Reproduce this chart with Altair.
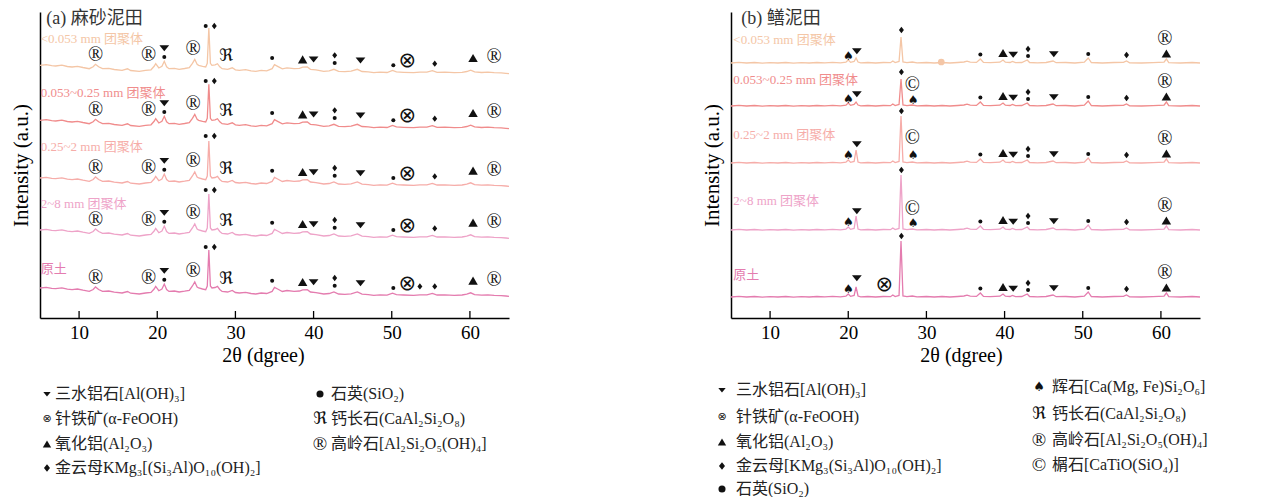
import altair as alt
import pandas as pd

SERIF = "Liberation Serif, Noto Sans CJK SC, DejaVu Serif, serif"
LATIN_SERIF = "Liberation Serif, Times New Roman, DejaVu Serif, serif"
SYMF = "DejaVu Sans"
INK = "#111111"

TRACES = ["<0.053 mm 团聚体", "0.053~0.25 mm 团聚体", "0.25~2 mm 团聚体", "2~8 mm 团聚体", "原土"]
COLORS = ["#F4C6A6", "#F08C8C", "#F6ADA9", "#EEA3C8", "#E47CAF"]
X_TICKS = [10, 20, 30, 40, 50, 60]

# ---------------- panel (a) 麻砂泥田 : profile (2θ, intensity above trace offset) ----------------
A_PROFILE = [
    (5.0, 0.0), (5.8, 0.6), (6.5, -0.4), (7.0, -0.7), (7.8, 0.2), (8.5, -1.2), (9.1, -1.7), (9.8, -1.0),
    (10.5, -2.2), (11.3, -3.4), (11.8, -1.5), (12.1, 1.0), (12.5, -1.5), (13.0, -3.4), (13.8, -3.0),
    (14.5, -4.2), (15.5, -5.0), (16.2, -3.5), (16.6, -5.2), (17.7, -6.0), (18.5, -5.0), (19.2, -4.5),
    (19.6, -1.0), (19.8, 1.6), (20.2, -2.7), (20.6, -1.0), (20.9, 4.0), (21.2, -1.5), (21.5, -3.4),
    (22.2, -3.0), (22.8, -4.0), (23.5, -3.2), (24.1, -2.4), (24.5, 2.0), (24.8, 6.0), (25.1, 1.0),
    (25.3, 0.0), (25.8, -1.0), (26.2, -1.7), (26.4, 2.0), (26.6, 37.3), (26.8, 2.0), (27.0, 0.0),
    (27.4, 0.5), (27.7, 1.6), (28.0, -1.5), (28.3, -3.4), (29.0, -4.0), (29.6, -2.5), (30.0, -4.5),
    (30.5, -5.0), (31.3, -4.3), (32.0, -5.5), (32.6, -6.0), (33.3, -5.0), (34.0, -5.5), (34.7, -3.4),
    (35.0, 0.6), (35.4, -1.0), (36.0, -3.5), (36.6, -2.5), (37.5, -3.4), (38.2, -3.0), (38.6, -1.8),
    (39.2, -1.7), (39.6, -4.0), (40.3, -4.6), (41.3, -6.0), (42.0, -5.5), (42.6, -4.0), (43.2, -6.0),
    (44.0, -6.3), (44.8, -5.8), (45.6, -4.0), (46.2, -6.2), (47.0, -6.6), (47.7, -7.4), (48.5, -6.8),
    (49.4, -7.2), (50.1, -5.2), (50.6, -6.6), (51.5, -7.0), (52.8, -7.4), (53.6, -6.8), (54.5, -6.9),
    (55.2, -5.4), (55.8, -7.0), (56.8, -6.8), (58.0, -7.4), (59.0, -7.0), (59.6, -6.2), (60.1, -4.8),
    (60.6, -6.6), (61.5, -7.2), (62.3, -6.8), (63.1, -7.4), (64.0, -7.6), (64.6, -8.0), (65.0, -8.4),
]
A_MAIN_X = 26.6
A_MAIN = [37.3, 36.0, 37.0, 36.0, 38.0]
A_OFF = [252.7, 197.7, 140.0, 88.0, 30.0]
A_LABEL_Y = [279, 225, 171, 114, 49]
A_LABEL_X = 5.1
A_TITLE = "(a) 麻砂泥田"

A_ANN = [("reg", 12.1, 10.5), ("reg", 18.9, 10.5), ("tdown", 20.9, 17.3), ("dot", 20.9, 8.3),
         ("reg", 24.6, 16.6), ("fraktur", 28.8, 9.0), ("dot", 34.7, 7.3), ("tup", 38.6, 6.0),
         ("tdown", 40.0, 6.0), ("dia", 42.7, 10.0), ("dot", 42.7, 2.3), ("tdown", 46.0, 5.0),
         ("dot", 50.2, 0.0), ("otimes", 52.0, 4.0), ("dia", 55.5, 1.6), ("tup", 60.4, 7.3), ("reg", 63.1, 8.3)]
A_TOP = [("dot", 26.2), ("dia", 27.3)]
A_TOP_H = [39.3, 39.3, 42.0, 40.0, 41.0]
A_EXTRA = [(4, "dia", 53.6, 1.6)]

# ---------------- panel (b) 鳝泥田 ----------------
B_PROFILE = [
    (5.0, 0.0), (6.0, 0.6), (7.0, 0.0), (8.0, 0.5), (9.0, -0.2), (10.0, 0.4), (11.0, 0.0), (12.0, 0.5),
    (13.0, -0.2), (14.0, 0.4), (15.0, 0.0), (16.0, 0.5), (17.0, 0.2), (18.0, 0.6), (19.0, 0.2),
    (19.7, 0.8), (20.0, 3.0), (20.3, 0.6), (20.75, 1.5), (21.0, 10.0), (21.25, 1.0), (21.6, 0.2),
    (22.5, 0.5), (23.5, 0.0), (24.5, 0.5), (25.4, 0.3), (25.7, 2.0), (26.0, 0.4), (26.5, 1.5),
    (26.75, 56.0), (27.0, 1.0), (27.5, 0.3), (28.2, 1.0), (28.8, 0.2), (30.0, 0.5), (31.0, 0.0),
    (32.0, 0.5), (33.0, 0.0), (34.0, 0.5), (34.8, 1.0), (35.2, 1.8), (35.6, 0.8), (36.4, 0.6),
    (36.9, 4.0), (37.3, 0.6), (38.2, 0.3), (39.4, 0.8), (39.8, 3.0), (40.1, 0.8), (40.7, 0.5),
    (41.0, 1.5), (41.4, 0.3), (42.2, 0.5), (42.9, 3.0), (43.2, 0.5), (44.2, 0.2), (45.3, 0.5),
    (46.2, 2.0), (46.6, 0.3), (47.8, 0.5), (49.0, 0.0), (50.2, 0.8), (50.7, 5.0), (51.1, 0.5),
    (52.5, 0.0), (54.0, 0.5), (55.2, 0.6), (55.6, 2.0), (56.0, 0.2), (57.5, 0.0), (59.0, 0.4),
    (60.4, 0.8), (60.7, 4.0), (61.0, 0.3), (62.5, 0.0), (64.0, 0.5), (65.0, 0.0),
]
B_MAIN_X = 26.75
B_MAIN = [26.0, 27.0, 47.0, 55.0, 56.0]
B_MAIN2_X = 21.0
B_MAIN2 = [5.0, 4.0, 13.0, 14.0, 10.0]
B_OFF = [255.0, 212.0, 155.0, 88.0, 21.0]
B_LABEL_Y = [278, 238, 183, 117, 43]
B_LABEL_X = 5.3
B_TITLE = "(b) 鳝泥田"

B_ANN = [("dot", 36.9, 8.5), ("tup", 39.8, 10.0), ("tdown", 41.1, 8.5), ("dia", 43.0, 14.0),
         ("dot", 43.0, 7.0), ("tdown", 46.3, 9.0), ("dot", 50.7, 9.0), ("dia", 55.6, 8.0),
         ("tup", 60.7, 9.5), ("reg", 60.5, 24.0)]
B_EXTRA = [
    (0, "spade", 20.0, 7), (0, "tdown", 21.1, 12), (0, "dia", 26.8, 33),
    (1, "spade", 20.0, 7), (1, "tdown", 21.1, 12), (1, "dia", 26.8, 34), (1, "copy", 28.2, 21), (1, "spade", 28.3, 6),
    (2, "spade", 20.0, 8), (2, "tdown", 21.1, 19), (2, "dia", 26.8, 52), (2, "copy", 28.2, 25), (2, "spade", 28.3, 8),
    (3, "spade", 20.0, 8), (3, "tdown", 21.1, 19), (3, "dia", 26.8, 60), (3, "copy", 28.2, 21), (3, "spade", 28.3, 7),
    (4, "spade", 20.0, 8), (4, "tdown", 21.1, 19), (4, "dia", 26.8, 61), (4, "otimes", 24.6, 12),
]
B_BLOB = (0, 31.9, 1.0)

# ---------------- legends ----------------
A_LEG_LEFT = [("tdown", "三水铝石[Al(OH)₃]"), ("otimes", "针铁矿(α-FeOOH)"), ("tup", "氧化铝(Al₂O₃)"),
              ("dia", "金云母KMg₃[(Si₃Al)O₁₀(OH)₂]")]
A_LEG_RIGHT = [("dot", "石英(SiO₂)"), ("fraktur", "钙长石(CaAl₂Si₂O₈)"), ("reg", "高岭石[Al₂Si₂O₅(OH)₄]")]
B_LEG_LEFT = [("tdown", "三水铝石[Al(OH)₃]"), ("otimes", "针铁矿(α-FeOOH)"), ("tup", "氧化铝(Al₂O₃)"),
              ("dia", "金云母[KMg₃(Si₃Al)O₁₀(OH)₂]"), ("dot", "石英(SiO₂)")]
B_LEG_RIGHT = [("spade", "辉石[Ca(Mg, Fe)Si₂O₆]"), ("fraktur", "钙长石(CaAl₂Si₂O₈)"),
               ("reg", "高岭石[Al₂Si₂O₅(OH)₄]"), ("copy", "榍石[CaTiO(SiO₄)]")]

W, H = 469, 306

TDOWN = "M-1,-0.55L1,-0.55L0,0.65Z"
DIAM = "M0,-1L0.78,0L0,1L-0.78,0Z"
POINT_STYLE = {"tdown": (TDOWN, 95), "tup": ("triangle-up", 90), "dot": ("circle", 16), "dia": (DIAM, 40)}
TEXT_STYLE = {"reg": ("®", LATIN_SERIF, 20), "copy": ("©", LATIN_SERIF, 20),
              "otimes": ("⊗", SYMF, 21), "fraktur": ("ℜ", SYMF, 17), "spade": ("♠", SYMF, 12)}
LEG_POINT = {"tdown": (TDOWN, 55), "tup": ("triangle-up", 70), "dot": ("circle", 50), "dia": (DIAM, 60)}
LEG_TEXT = {"reg": ("®", LATIN_SERIF, 19), "copy": ("©", LATIN_SERIF, 19),
            "otimes": ("⊗", SYMF, 11), "fraktur": ("ℜ", SYMF, 17), "spade": ("♠", SYMF, 13)}

AXF = LATIN_SERIF
XSC = alt.Scale(domain=[5, 65], nice=False, zero=False)
YSC = alt.Scale(domain=[0, 306], nice=False, zero=False)
YAX = alt.Axis(ticks=False, labels=False, grid=False, domainColor="#000", domainWidth=1.5,
               title="Intensity (a.u.)", titleFont=AXF, titleFontSize=21,
               titleFontWeight="normal", titleColor="#000", titlePadding=9)


def make_xaxis(title_x):
    return alt.Axis(values=X_TICKS, ticks=False, grid=False, domainColor="#000", domainWidth=1.5,
                    labelFont=AXF, labelFontSize=19, labelColor="#000", labelPadding=5,
                    title="2θ (dgree)", titleFont=AXF, titleFontSize=20, titleX=title_x,
                    titleAlign="center", titleFontWeight="normal", titleColor="#000", titlePadding=3)


def ye():
    return alt.Y("y:Q", scale=YSC, axis=YAX)


def color_enc():
    return alt.Color("trace:N", scale=alt.Scale(domain=TRACES, range=COLORS), legend=None)


def panel(profile, main_x, mains, offs, label_x, label_y, title, ann_rows, legend_left, legend_right,
          xaxis, main2_x=None, mains2=None, blob=None, leg_geo=None):
    def xe():
        return alt.X("x:Q", scale=XSC, axis=xaxis)

    rows = []
    for i, name in enumerate(TRACES):
        for (px, py) in profile:
            v = py
            if px == main_x:
                v = mains[i]
            if main2_x is not None and px == main2_x:
                v = mains2[i]
            rows.append({"x": px, "y": offs[i] + v, "trace": name})
    lines = alt.Chart(pd.DataFrame(rows)).mark_line(strokeWidth=1.3, interpolate="linear").encode(
        x=xe(), y=ye(), color=color_enc(), detail="trace:N")

    lab_df = pd.DataFrame({"x": [label_x] * 5, "y": label_y, "trace": TRACES})
    labels = alt.Chart(lab_df).mark_text(align="left", baseline="middle", font=SERIF, fontSize=13).encode(
        x=xe(), y=ye(), text="trace:N", color=color_enc())

    tdf = pd.DataFrame({"x": [title[1]], "y": [title[2]], "t": [title[0]]})
    tlayer = alt.Chart(tdf).mark_text(align="left", baseline="middle", font=SERIF, fontSize=18,
                                      color="#333333").encode(x=xe(), y=ye(), text="t:N")

    ticks = alt.Chart(pd.DataFrame({"x": X_TICKS})).mark_rule(color="#000", strokeWidth=1.3).encode(
        x=xe(), y=alt.value(H), y2=alt.value(H - 7))

    layers = [lines, labels, tlayer, ticks]

    adf = pd.DataFrame(ann_rows, columns=["sym", "x", "y"])
    for sym, (shape, size) in POINT_STYLE.items():
        sub = adf[adf.sym == sym]
        if len(sub):
            layers.append(alt.Chart(sub).mark_point(shape=shape, size=size, filled=True, color=INK,
                                                    opacity=1, strokeWidth=0).encode(x=xe(), y=ye()))
    for sym, (glyph, font, fs) in TEXT_STYLE.items():
        sub = adf[adf.sym == sym].copy()
        if len(sub):
            sub["g"] = glyph
            layers.append(alt.Chart(sub).mark_text(font=font, fontSize=fs, color=INK, baseline="middle",
                                                   align="center").encode(x=xe(), y=ye(), text="g:N"))
    if blob is not None:
        bdf = pd.DataFrame({"x": [blob[1]], "y": [offs[blob[0]] + blob[2]], "trace": [TRACES[blob[0]]]})
        layers.append(alt.Chart(bdf).mark_point(shape="circle", size=45, filled=True, opacity=1).encode(
            x=xe(), y=ye(), color=color_enc()))

    # legend below the plot
    lx_sym, lx_txt, l_rows, rx_sym, rx_txt, r_rows = leg_geo
    for items, sx, tx, ys in ((legend_left, lx_sym, lx_txt, l_rows), (legend_right, rx_sym, rx_txt, r_rows)):
        for (sym, text), yy in zip(items, ys):
            one = pd.DataFrame({"t": [text]})
            if sym in LEG_POINT:
                shape, size = LEG_POINT[sym]
                layers.append(alt.Chart(one).mark_point(shape=shape, size=size, filled=True, color=INK,
                                                        opacity=1, strokeWidth=0).encode(
                    x=alt.value(sx), y=alt.value(yy)))
            else:
                glyph, font, fs = LEG_TEXT[sym]
                layers.append(alt.Chart(pd.DataFrame({"g": [glyph]})).mark_text(
                    font=font, fontSize=fs, color=INK, baseline="middle", align="center").encode(
                    text="g:N", x=alt.value(sx), y=alt.value(yy)))
            layers.append(alt.Chart(one).mark_text(font=SERIF, fontSize=16, color="#222222", align="left",
                                                   baseline="middle").encode(
                text="t:N", x=alt.value(tx), y=alt.value(yy)))

    return alt.layer(*layers).properties(width=W, height=H)


a_rows = []
for i in range(5):
    for (s, x, h) in A_ANN:
        a_rows.append((s, x, A_OFF[i] + h))
    for (s, x) in A_TOP:
        a_rows.append((s, x, A_OFF[i] + A_TOP_H[i]))
for (i, s, x, h) in A_EXTRA:
    a_rows.append((s, x, A_OFF[i] + h))

b_rows = []
for i in range(5):
    for (s, x, h) in B_ANN:
        b_rows.append((s, x, B_OFF[i] + h))
for (i, s, x, h) in B_EXTRA:
    b_rows.append((s, x, B_OFF[i] + h))

pa = panel(A_PROFILE, A_MAIN_X, A_MAIN, A_OFF, A_LABEL_X, A_LABEL_Y, (A_TITLE, 5.8, 299), a_rows,
           A_LEG_LEFT, A_LEG_RIGHT, make_xaxis(223),
           leg_geo=(7, 15, [382, 407, 432, 456], 280, 291, [382, 407, 432]))
pb = panel(B_PROFILE, B_MAIN_X, B_MAIN, B_OFF, B_LABEL_X, B_LABEL_Y, (B_TITLE, 6.3, 299), b_rows,
           B_LEG_LEFT, B_LEG_RIGHT, make_xaxis(230), main2_x=B_MAIN2_X, mains2=B_MAIN2, blob=B_BLOB,
           leg_geo=(-9, 5, [378, 405, 430, 454, 477], 308, 321, [375, 402, 428, 453]))

chart = alt.hconcat(pa, pb, spacing=222, bounds="flush").properties(
    padding={"left": 2, "top": 2, "right": 2, "bottom": 0}
).configure_view(stroke=None).configure_axis(
    labelFont=AXF, titleFont=AXF, titleFontWeight="normal", labelColor="#000", titleColor="#000"
)

chart.save("out.html", embed_options={"renderer": "svg", "actions": False})
